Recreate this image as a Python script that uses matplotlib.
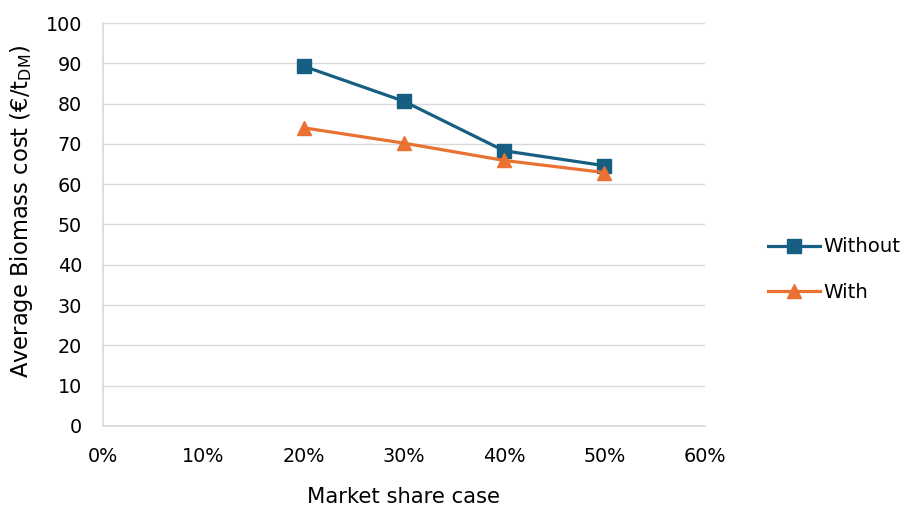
import matplotlib
matplotlib.use("Agg")
import matplotlib.pyplot as plt
from matplotlib.ticker import PercentFormatter

plt.rcParams["font.family"] = ["DejaVu Sans"]
plt.rcParams["mathtext.fontset"] = "dejavusans"

market_share = [20, 30, 40, 50]
cost_without = [89.3, 80.6, 68.3, 64.6]
cost_with = [74.0, 70.2, 65.9, 62.9]

blue = "#165F82"
orange = "#E97132"
grid_c = "#D9D9D9"

fig = plt.figure(figsize=(9.08, 5.07), dpi=100)
ax = fig.add_axes([0.1134, 0.1598, 0.6626, 0.7948])

ax.plot(market_share, cost_without, color=blue, lw=2.3, marker="s", ms=10,
        label="Without", zorder=3)
ax.plot(market_share, cost_with, color=orange, lw=2.3, marker="^", ms=10,
        label="With", zorder=3)

ax.set_xlim(0, 60)
ax.set_ylim(0, 100)
ax.set_xticks(range(0, 61, 10))
ax.set_yticks(range(0, 101, 10))
ax.xaxis.set_major_formatter(PercentFormatter(decimals=0))
ax.grid(axis="y", color=grid_c, lw=1)
ax.set_axisbelow(True)
for s in ["top", "right"]:
    ax.spines[s].set_visible(False)
for s in ["left", "bottom"]:
    ax.spines[s].set_color(grid_c)
    ax.spines[s].set_linewidth(1.2)
ax.tick_params(length=0, labelsize=13.8, colors="#000000")
ax.tick_params(axis="y", pad=15)
ax.tick_params(axis="x", pad=15)

ax.set_xlabel("Market share case", fontsize=15.2, labelpad=15)
ax.set_ylabel("Average Biomass cost (€/t$_{\\mathrm{DM}}$)", fontsize=16.3)
ax.yaxis.set_label_coords(-0.113, 0.533)

fig.legend(loc="center left", bbox_to_anchor=(0.8455, 0.468), frameon=False,
           fontsize=14.2, handlelength=2.65, labelspacing=1.35, handletextpad=0.15,
           borderaxespad=0, borderpad=0)

fig.savefig("out.png", dpi=100)
